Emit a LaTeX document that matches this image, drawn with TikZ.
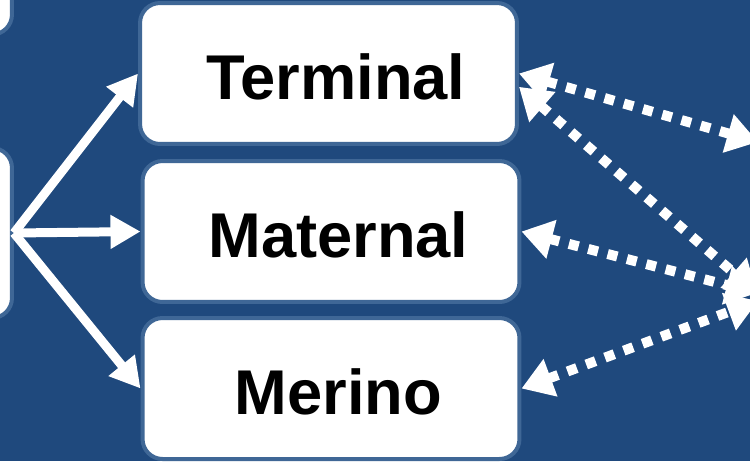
\documentclass[tikz,border=0pt]{standalone}
\usepackage{fontspec}
\setmainfont{Liberation Sans}
\usetikzlibrary{arrows.meta}
\definecolor{slide}{HTML}{1F497D}
\definecolor{rim}{HTML}{3F6796}

\begin{document}
\begin{tikzpicture}[x=0.02cm,y=-0.02cm,font=\bfseries\fontsize{36}{40}\selectfont]
    \tikzset{
        group/.style={
            rectangle, rounded corners=0.4cm, fill=white, draw=rim,
            line width=0.08cm, text=black
        },
        breed/.style={
            group, minimum width=7.54cm, minimum height=2.82cm,
            text height=1.04cm
        },
        feed/.style={
            draw=white, line width=0.18cm,
            -{Triangle[length=0.6cm,width=0.64cm]}
        },
        link/.style={
            draw=white, line width=0.2cm, dash pattern=on 0.2cm off 0.2cm,
            {Triangle[length=0.62cm,width=0.76cm]}-{Triangle[length=0.62cm,width=0.76cm]}
        }
    }

    \useasboundingbox (0,0) rectangle (750,461);
    \fill[slide] (0,0) rectangle (750,461);

    % boxes cut off at the left edge
    \node[group, minimum width=4cm, minimum height=2.7cm] (top) at (-88,-33) {};
    \node[group, minimum width=4cm, minimum height=3.4cm] (src) at (-88,233) {};

    % the three breeds
    \node[breed] (term) at (328.5,73.5) {\hspace*{0.3cm}Terminal};
    \node[breed] (mat) at (331,231.5) {\hspace*{0.3cm}Maternal};
    \node[breed] (mer) at (331,388.5) {\hspace*{0.3cm}Merino};

    % partners off the right edge
    \coordinate (ra) at (758,142);
    \coordinate (rb) at (757,293);
    \coordinate (rc) at (758,301);

    \draw[feed] (src.east) -- (term.west);
    \draw[feed] (src.east) -- (mat.west);
    \draw[feed] (src.east) -- (mer.west);

    \draw[link] (term.east) -- (ra);
    \draw[link] (term.-4) -- (rb);
    \draw[link] (mat.east) -- (rb);
    \draw[link] (mer.east) -- (rc);
\end{tikzpicture}
\end{document}
